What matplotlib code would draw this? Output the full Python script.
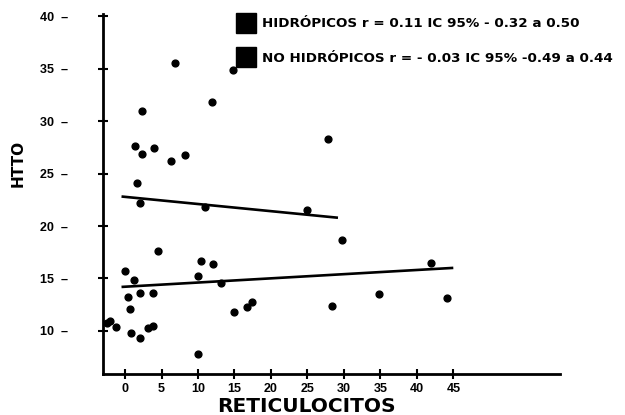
import numpy as np
import matplotlib.pyplot as plt
from matplotlib.lines import Line2D

plt.rcParams['font.family'] = ['Liberation Sans', 'DejaVu Sans']
plt.rcParams['font.weight'] = 'bold'

# hidropicos (Hto bajo)
hid_x = [-2.5, -2.0, -1.2, 0.0, 0.4, 0.7, 0.8, 1.2, 2.1, 2.1, 3.2, 3.8, 3.9,
         4.5, 10.0, 10.0, 10.4, 12.1, 13.2, 15.0, 16.7, 17.4, 28.3, 29.7,
         34.8, 41.9, 44.1]
hid_y = [10.8, 10.9, 10.4, 15.7, 13.2, 12.1, 9.8, 14.9, 13.6, 9.3, 10.3, 10.5, 13.6,
         17.6, 15.2, 7.8, 16.7, 16.4, 14.6, 11.8, 12.3, 12.8, 12.4, 18.7,
         13.5, 16.5, 13.1]

# no hidropicos (Hto alto)
nohid_x = [1.4, 1.6, 2.1, 2.3, 2.3, 4.0, 6.3, 6.8, 8.2, 11.0, 11.9, 14.8, 24.9, 27.8]
nohid_y = [27.6, 24.1, 22.2, 31.0, 26.9, 27.4, 26.2, 35.5, 26.8, 21.8, 31.8, 34.9, 21.5, 28.3]

# rectas de regresion (extremos leidos)
hid_line_x = [-0.3, 44.8]
hid_line_y = [14.2, 16.0]
nohid_line_x = [-0.3, 29.0]
nohid_line_y = [22.8, 20.8]

xticks = [0, 5, 10, 15, 20, 25, 30, 35, 40, 45]
yticks = [10, 15, 20, 25, 30, 35, 40]

fig = plt.figure(figsize=(6.25, 4.15), dpi=100)
ax = fig.add_axes([0.165, 0.099, 0.731, 0.867])

ax.scatter(hid_x, hid_y, s=24, color='black', zorder=3)
ax.scatter(nohid_x, nohid_y, s=24, color='black', zorder=3)
ax.plot(hid_line_x, hid_line_y, color='black', lw=1.9)
ax.plot(nohid_line_x, nohid_line_y, color='black', lw=1.9)

ax.set_xlim(-3, 59.6)
ax.set_ylim(5.9, 40.2)
ax.spines['top'].set_visible(False)
ax.spines['right'].set_visible(False)
ax.spines['left'].set_linewidth(2)
ax.spines['bottom'].set_linewidth(2)

ax.set_xticks(xticks)
ax.set_xticklabels([str(t) for t in xticks], fontsize=9, fontweight='bold')
ax.set_yticks(yticks)
ax.set_yticklabels([f'{t}  \u2013' for t in yticks], fontsize=9, fontweight='bold')
ax.tick_params(axis='x', direction='inout', length=7, width=1.5, pad=3)
ax.tick_params(axis='y', direction='inout', length=7, width=1.5, pad=22)

ax.set_xlabel('RETICULOCITOS', fontsize=14.5, fontweight='bold', family='DejaVu Sans')
ax.xaxis.set_label_coords(0.446, -0.065)
ax.set_ylabel('HTTO', fontsize=11, fontweight='bold', family='DejaVu Sans')
ax.yaxis.set_label_coords(-0.17, 0.585)

handles = [Line2D([], [], marker='s', ls='', color='black', markersize=15),
           Line2D([], [], marker='s', ls='', color='black', markersize=15)]
labels = ['HIDR\u00d3PICOS r = 0.11 IC 95% - 0.32 a 0.50',
          'NO HIDR\u00d3PICOS r = - 0.03 IC 95% -0.49 a 0.44']
ax.legend(handles, labels, loc='upper left', bbox_to_anchor=(0.27, 1.025),
          frameon=False, prop={'size': 9.7, 'weight': 'bold', 'family': 'DejaVu Sans'},
          handletextpad=0.6, labelspacing=1.6, handlelength=1.1)

fig.savefig('out.png', dpi=100)
